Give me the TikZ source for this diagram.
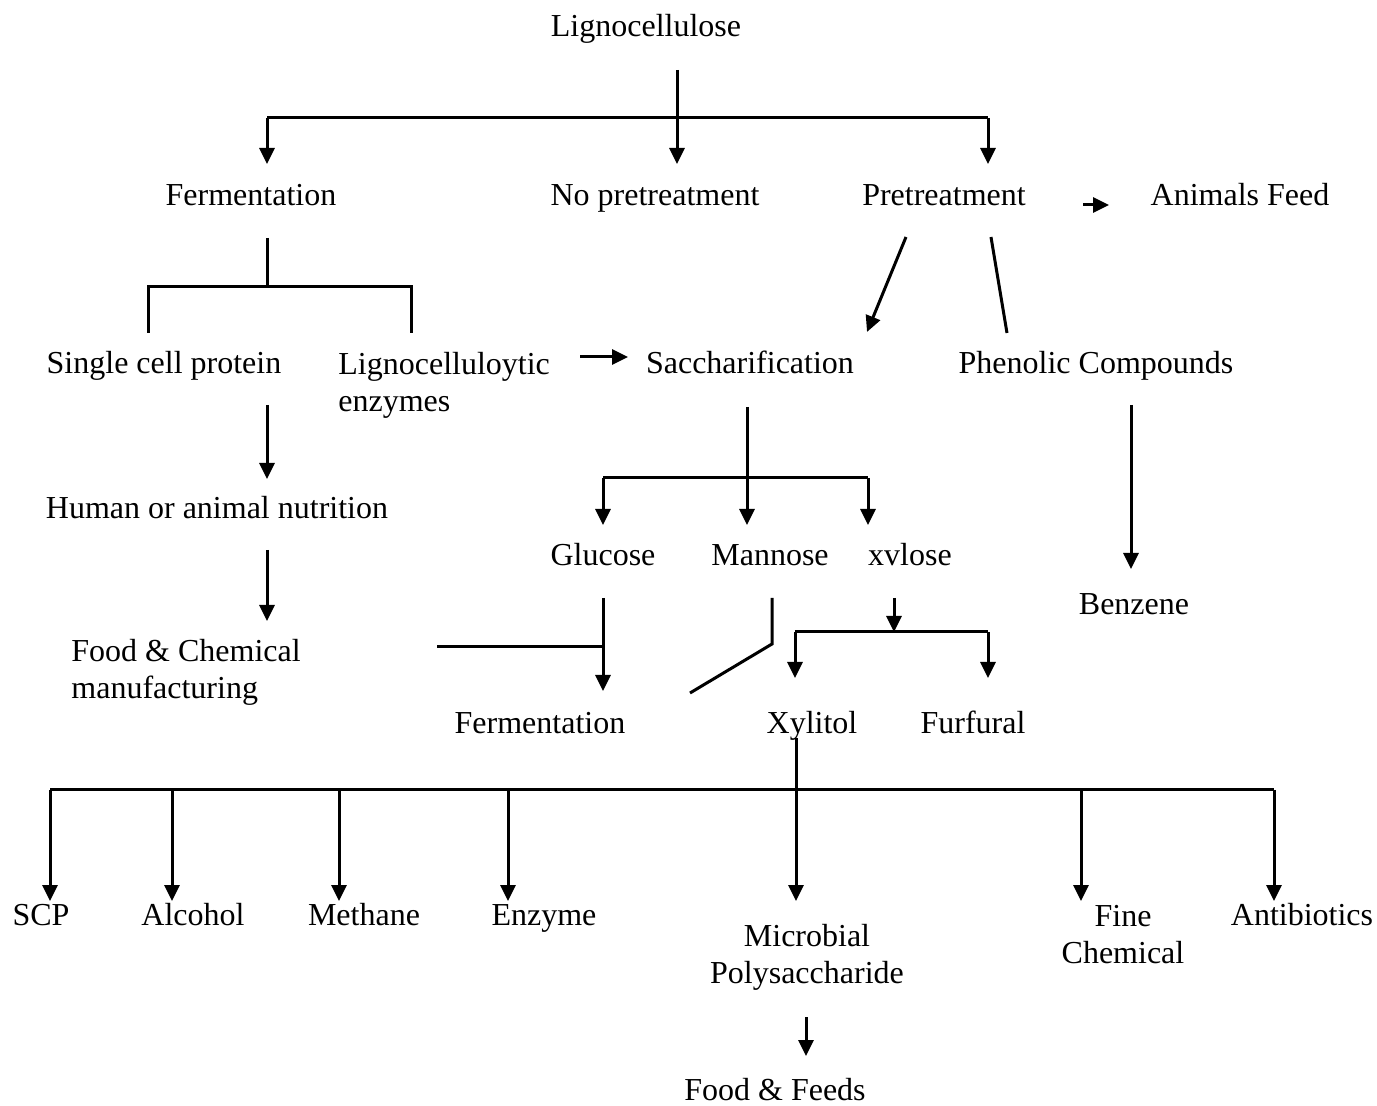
\documentclass[tikz,border=0pt]{standalone}
\usepackage{fontspec}
\setmainfont{Liberation Serif}
\usetikzlibrary{arrows.meta,positioning}
\tikzset{
	item/.style={inner sep=0pt, text height=11pt, text depth=3.5pt, font=\fontsize{16}{18.5}\selectfont},
	twoline/.style={item, text height={}, text depth={}},
	flow/.style={line width=1.5pt, -{Triangle[width=7.5pt,length=8pt]}},
	link/.style={line width=1.5pt},
}
\begin{document}
\begin{tikzpicture}[x=0.5pt, y=-0.5pt]
	\useasboundingbox (0,0) rectangle (1377,1106);
	% products
	\node[item] (ligno) at (646,29) {Lignocellulose};
	\node[item] (fermA) at (251,198) {Fermentation};
	\node[item] (nopre) at (655,198) {No pretreatment};
	\node[item] (pretr) at (944,198) {Pretreatment};
	\node[item] (feed) at (1240,198) {Animals Feed};
	\node[item] (scell) at (164,366) {Single cell protein};
	\node[twoline, anchor=west, align=left] (lenz) at (338,385) {Lignocelluloytic\\enzymes};
	\node[item] (sacch) at (750,366) {Saccharification};
	\node[item] (phen) at (1096,366) {Phenolic Compounds};
	\node[item] (human) at (217,511) {Human or animal nutrition};
	\node[item] (gluc) at (603,558) {Glucose};
	\node[item] (mann) at (770,558) {Mannose};
	\node[item] (xylo) at (910,558) {xvlose};
	\node[item] (benz) at (1134,607) {Benzene};
	\node[twoline, anchor=west, align=left] (foodchem) at (71,672) {Food \& Chemical\\manufacturing};
	\node[item] (fermB) at (540,726) {Fermentation};
	\node[item] (xylit) at (812,726) {Xylitol};
	\node[item] (furf) at (973,726) {Furfural};
	\node[item] (scp) at (41,918) {SCP};
	\node[item] (alc) at (193,918) {Alcohol};
	\node[item] (meth) at (364,918) {Methane};
	\node[item] (enz) at (544,918) {Enzyme};
	\node[twoline, align=center] (micro) at (807,957) {Microbial\\Polysaccharide};
	\node[twoline, align=center] (fine) at (1123,935) {Fine\\Chemical};
	\node[item] (anti) at (1302,918) {Antibiotics};
	\node[item] (foodfeed) at (775,1093) {Food \& Feeds};

	% lignocellulose split
	\coordinate (lignoOut) at (677,70);
	\coordinate (splitL) at (267,118);
	\coordinate (splitR) at (988,118);
	\coordinate (fermAIn) at (267,164);
	\coordinate (nopreIn) at (677,164);
	\coordinate (pretrIn) at (988,164);
	\draw[link] (splitL) -- (splitR);
	\draw[flow] (lignoOut) -- (nopreIn);
	\draw[flow] (splitL) -- (fermAIn);
	\draw[flow] (splitR) -- (pretrIn);

	% fermentation branch
	\coordinate (fermAOut) at (267,238);
	\coordinate (fermABar) at (267,287);
	\coordinate (scellIn) at (148,333);
	\coordinate (lenzIn) at (411,333);
	\draw[link] (fermAOut) -- (fermABar);
	\draw[link] (scellIn) |- (fermABar) -| (lenzIn);
	\coordinate (scellOut) at (267,405);
	\coordinate (humanIn) at (267,479);
	\draw[flow] (scellOut) -- (humanIn);
	\coordinate (humanOut) at (267,550);
	\coordinate (foodchemIn) at (267,621);
	\draw[flow] (humanOut) -- (foodchemIn);
	\coordinate (lenzOut) at (580,357);
	\coordinate (sacchIn) at (628,357);
	\draw[flow] (lenzOut) -- (sacchIn);

	% pretreatment branch
	\coordinate (pretrOutL) at (906,237);
	\coordinate (sacchInB) at (867,332);
	\coordinate (pretrOutR) at (991,237);
	\coordinate (phenIn) at (1007,333);
	\coordinate (pretrOutE) at (1083,205);
	\coordinate (feedIn) at (1109,205);
	\draw[flow] (pretrOutL) -- (sacchInB);
	\draw[link] (pretrOutR) -- (phenIn);
	\draw[flow] (pretrOutE) -- (feedIn);
	\coordinate (phenOut) at (1131,405);
	\coordinate (benzIn) at (1131,569);
	\draw[flow] (phenOut) -- (benzIn);

	% sugars
	\coordinate (sacchOut) at (747,407);
	\coordinate (sugarBar) at (747,478);
	\coordinate (glucIn) at (603,525);
	\coordinate (mannIn) at (747,525);
	\coordinate (xyloIn) at (868,525);
	\draw[flow] (sacchOut) -- (mannIn);
	\draw[link] (glucIn |- sugarBar) -- (xyloIn |- sugarBar);
	\draw[flow] (glucIn |- sugarBar) -- (glucIn);
	\draw[flow] (xyloIn |- sugarBar) -- (xyloIn);

	% into fermentation
	\coordinate (glucOut) at (603,598);
	\coordinate (fermBIn) at (603,691);
	\coordinate (foodchemOut) at (437,647);
	\coordinate (mannOut) at (772,598);
	\coordinate (mannBend) at (772,644);
	\coordinate (mannEnd) at (690,693);
	\draw[flow] (glucOut) -- (fermBIn);
	\draw[link] (foodchemOut) -- (foodchemOut -| glucOut);
	\draw[link] (mannOut) -- (mannBend) -- (mannEnd);

	% xylose split
	\coordinate (xyloOut) at (894,598);
	\coordinate (xyloBar) at (894,632);
	\coordinate (xylitIn) at (795,678);
	\coordinate (furfIn) at (988,678);
	\draw[flow] (xyloOut) -- (xyloBar);
	\draw[link] (xylitIn |- xyloBar) -- (furfIn |- xyloBar);
	\draw[flow] (xylitIn |- xyloBar) -- (xylitIn);
	\draw[flow] (furfIn |- xyloBar) -- (furfIn);

	% end products
	\coordinate (xylitOut) at (796,738);
	\coordinate (microIn) at (796,901);
	\coordinate (prodBar) at (50,790);
	\coordinate (antiIn) at (1274,901);
	\draw[flow] (xylitOut) -- (microIn);
	\draw[link] (prodBar) -- (antiIn |- prodBar);
	\foreach \n/\x in {scp/50, alc/172, meth/339, enz/508, fine/1081, anti/1274}
		\draw[flow] (\x,790) coordinate (\n Top) -- (\x,901) coordinate (\n In);
	\coordinate (microOut) at (806,1017);
	\coordinate (foodfeedIn) at (806,1056);
	\draw[flow] (microOut) -- (foodfeedIn);
\end{tikzpicture}
\end{document}
